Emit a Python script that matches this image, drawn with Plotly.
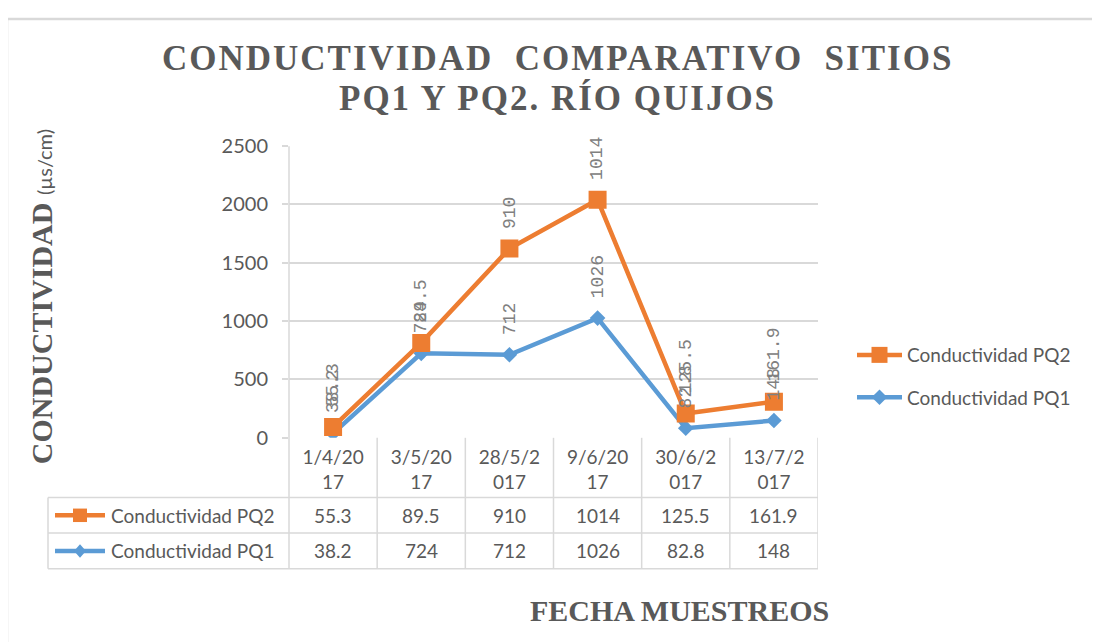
import plotly.graph_objects as go
import numpy as np

# ---------------- data ----------------
fechas = ["1/4/2017", "3/5/2017", "28/5/2017", "9/6/2017", "30/6/2017", "13/7/2017"]
etiquetas_fecha = ["1/4/20<br>17", "3/5/20<br>17", "28/5/2<br>017", "9/6/20<br>17", "30/6/2<br>017", "13/7/2<br>017"]
pq1 = [38.2, 724, 712, 1026, 82.8, 148]
pq2 = [55.3, 89.5, 910, 1014, 125.5, 161.9]
nombre_pq1 = "Conductividad PQ1"
nombre_pq2 = "Conductividad PQ2"
y_ticks = [0, 500, 1000, 1500, 2000, 2500]
titulo_1 = "CONDUCTIVIDAD  COMPARATIVO  SITIOS"
titulo_2 = "PQ1 Y PQ2. RÍO QUIJOS"

# ---------------- style ----------------
W, H = 1100, 642
OFF = 8  # page body margin
ORANGE = "#ED7D31"
BLUE = "#5B9BD5"
TXT = "#595959"
LBL = "#808080"
GRID = "#D9D9D9"
SANS = "Lato"
SERIF = "Liberation Serif"


def px(x):
    return (x - OFF) / W


def py(y):
    return 1 - (y - OFF) / H


X0, X1 = 289, 818          # plot area left/right (screen px)
Y_TOP, Y_ZERO = 138, 441   # screen y of 2500 and 0
ROW1, ROW2, ROW3 = 503, 540, 577  # table row borders
TBL_LEFT = 48

fig = go.Figure()

# stacked lines (Excel "stacked line" chart)
fig.add_trace(go.Scatter(
    x=fechas, y=pq1, name=nombre_pq1, stackgroup="s", fill="none",
    mode="lines+markers",
    line=dict(color=BLUE, width=4.5),
    marker=dict(symbol="diamond", size=12, color=BLUE),
    legend="legend2",
))
fig.add_trace(go.Scatter(
    x=fechas, y=pq2, name=nombre_pq2, stackgroup="s", fill="none",
    mode="lines+markers",
    line=dict(color=ORANGE, width=4.5),
    marker=dict(symbol="square", size=18, color=ORANGE),
    legend="legend",
))

cum1 = np.array(pq1)
cum2 = cum1 + np.array(pq2)

annotations = []
# data labels (rotated, above each point)
for serie, cum in ((pq1, cum1), (pq2, cum2)):
    for f, v, c in zip(fechas, serie, cum):
        annotations.append(dict(
            x=f, y=c, xref="x", yref="y", text=f"{v:g}", showarrow=False,
            textangle=-90, yanchor="bottom", xanchor="center", yshift=18,
            font=dict(family="Liberation Mono", size=18, color=LBL),
        ))

# table values
for serie, yc in ((pq2, (ROW1 + ROW2) / 2), (pq1, (ROW2 + ROW3) / 2)):
    for f, v in zip(fechas, serie):
        annotations.append(dict(
            x=f, y=py(yc), xref="x", yref="paper", text=f"{v:g}", showarrow=False,
            xanchor="center", yanchor="middle",
            font=dict(family=SANS, size=19, color=TXT),
        ))

# table row names
for nm, yc in ((nombre_pq2, (ROW1 + ROW2) / 2), (nombre_pq1, (ROW2 + ROW3) / 2)):
    annotations.append(dict(
        x=px(109), y=py(yc), xref="paper", yref="paper", text=nm, showarrow=False,
        xanchor="left", yanchor="middle",
        font=dict(family=SANS, size=19, color=TXT),
    ))

# chart title (two lines)
for txt, yc in ((titulo_1, 47), (titulo_2, 88)):
    annotations.append(dict(
        x=px(557), y=py(yc), xref="paper", yref="paper", showarrow=False,
        text=f'<b><span style="letter-spacing:2px">{txt}</span></b>',
        font=dict(family=SERIF, size=35, color=TXT), xanchor="center", yanchor="middle",
    ))

# axis titles
annotations.append(dict(
    x=px(41), y=py(295), xref="paper", yref="paper", showarrow=False, textangle=-90,
    text='<b>CONDUCTIVIDAD</b> <span style="font-family:Lato;font-size:20px">(µs/cm)</span>',
    font=dict(family=SERIF, size=30, color=TXT), xanchor="center", yanchor="middle",
))
annotations.append(dict(
    x=px(679), y=py(620), xref="paper", yref="paper", showarrow=False,
    text="<b>FECHA MUESTREOS</b>",
    font=dict(family=SERIF, size=30, color=TXT), xanchor="center", yanchor="middle",
))

# shapes: table grid, legend keys, chart border
shapes = []
lc = dict(color=GRID, width=1.5)
for yy in (ROW1, ROW2, ROW3):
    shapes.append(dict(type="line", xref="paper", yref="paper",
                       x0=px(TBL_LEFT), x1=px(X1), y0=py(yy), y1=py(yy), line=lc))
shapes.append(dict(type="line", xref="paper", yref="paper",
                   x0=px(TBL_LEFT), x1=px(TBL_LEFT), y0=py(ROW1), y1=py(ROW3), line=lc))
shapes.append(dict(type="line", xref="paper", yref="paper",
                   x0=px(X0), x1=px(X0), y0=py(Y_TOP), y1=py(ROW3), line=lc))
for k in range(len(fechas)):
    shapes.append(dict(type="line", xref="x", yref="paper",
                       x0=k + 0.5, x1=k + 0.5, y0=py(Y_ZERO), y1=py(ROW3), line=lc))

# legend keys in table
for yc, col, sym in (((ROW1 + ROW2) / 2, ORANGE, "square"), ((ROW2 + ROW3) / 2, BLUE, "diamond")):
    shapes.append(dict(type="line", xref="paper", yref="paper",
                       x0=px(55), x1=px(105), y0=py(yc), y1=py(yc),
                       line=dict(color=col, width=4.5)))
    if sym == "square":
        shapes.append(dict(type="rect", xref="paper", yref="paper",
                           x0=px(73), x1=px(87), y0=py(yc - 7), y1=py(yc + 7),
                           fillcolor=col, line=dict(width=0)))
    else:
        path = (f"M {px(80)},{py(yc - 7)} L {px(86)},{py(yc)} "
                f"L {px(80)},{py(yc + 7)} L {px(74)},{py(yc)} Z")
        shapes.append(dict(type="path", xref="paper", yref="paper", path=path,
                           fillcolor=col, line=dict(width=0)))

# outer chart border
shapes.append(dict(type="rect", xref="paper", yref="paper",
                   x0=px(7), x1=px(1130), y0=py(670), y1=py(6),
                   line=dict(color="#D9D9D9", width=2.5)))

fig.update_layout(
    width=W, height=H,
    margin=dict(l=0, r=0, t=0, b=0),
    paper_bgcolor="white", plot_bgcolor="white",
    xaxis=dict(
        domain=[px(X0), px(X1)], type="category", range=[-0.5, len(fechas) - 0.5],
        tickvals=fechas, ticktext=etiquetas_fecha, showgrid=False, zeroline=False,
        showline=False, ticks="", tickfont=dict(family=SANS, size=19, color=TXT),
        ticklabelstandoff=6,
    ),
    yaxis=dict(
        domain=[py(Y_ZERO), py(Y_TOP)], range=[0, 2500], tickvals=y_ticks,
        showgrid=True, gridcolor=GRID, gridwidth=2, zeroline=False, showline=False,
        ticks="outside", ticklen=6, tickcolor=GRID, tickwidth=1.5,
        tickfont=dict(family=SANS, size=20, color=TXT), ticklabelstandoff=10,
    ),
    legend=dict(x=px(852), y=py(355), xanchor="left", yanchor="middle", itemwidth=45,
                font=dict(family=SANS, size=19, color=TXT), bgcolor="rgba(0,0,0,0)"),
    legend2=dict(x=px(852), y=py(399), xanchor="left", yanchor="middle", itemwidth=45,
                 font=dict(family=SANS, size=19, color=TXT), bgcolor="rgba(0,0,0,0)"),
    annotations=annotations,
    shapes=shapes,
    showlegend=True,
)

fig.write_html("out.html")
